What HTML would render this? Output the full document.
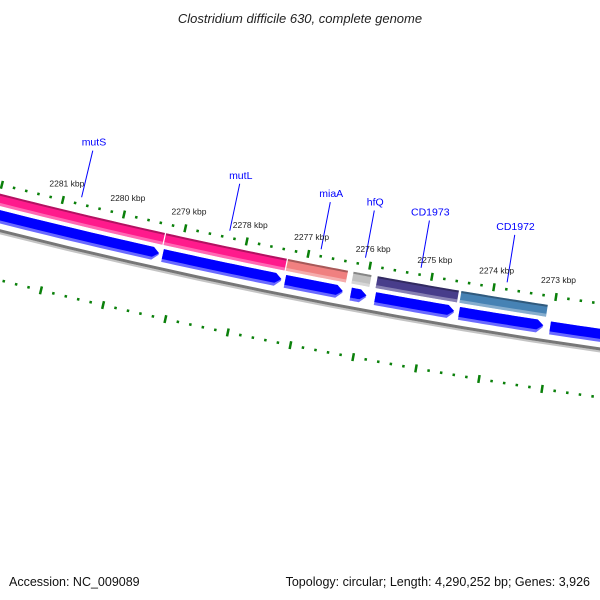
<!DOCTYPE html>
<html><head><meta charset="utf-8"><style>
html,body{margin:0;padding:0;background:#fff;}
svg{display:block;font-family:"Liberation Sans",sans-serif;}
</style></head><body>
<svg id="map" width="600" height="600" viewBox="0 0 600 600" xmlns="http://www.w3.org/2000/svg">
<text x="300" y="23" text-anchor="middle" font-size="13" font-style="italic" fill="#222">Clostridium difficile 630, complete genome</text>
<text x="9" y="586" font-size="12.5" fill="#111">Accession: NC_009089</text>
<text x="590" y="586" text-anchor="end" font-size="12.5" fill="#111">Topology: circular; Length: 4,290,252 bp; Genes: 3,926</text>
<g id="layer"></g>
</svg>
<script>
const geneNames = ["mutS","mutL","miaA","hfQ","CD1973","CD1972","CD1971"];
const geneStart = [2282.14,2279.28,2277.30,2276.24,2275.85,2274.50,2273.04];
const geneEnd   = [2279.30,2277.32,2276.33,2275.95,2274.54,2273.11,2271.00];
const geneColor = ["#ff1a8c","#ff1a8c","#f08080","#c0c0c0","#483d8b","#4682b4",null];
const showLabel = [true,true,true,true,true,true,false];
const tickLabelKbp = [2273,2274,2275,2276,2277,2278,2279,2280,2281];
const tickRangeKbp = [2269,2285];

const CX=1418, CY=-5386, R=5748, A0=98.625, K=0.6264, REF=2273;
const NS="http://www.w3.org/2000/svg";
const layer=document.getElementById('layer');
function pt(bp,r){const a=(A0+(bp-REF)*K)*Math.PI/180;return [CX+r*Math.cos(a),CY+r*Math.sin(a)];}
function mk(tag,attrs){const e=document.createElementNS(NS,tag);for(const k in attrs)e.setAttribute(k,attrs[k]);layer.appendChild(e);return e;}
function arcPts(b1,b2,r){const p=[];for(let i=0;i<=16;i++){p.push(pt(b1+(b2-b1)*i/16,r));}return p;}
function sector(b1,b2,r1,r2,fill,op){
  const p=arcPts(b1,b2,r1).concat(arcPts(b2,b1,r2));
  return mk('polygon',{points:p.map(q=>q[0].toFixed(2)+','+q[1].toFixed(2)).join(' '),fill:fill,'fill-opacity':op});
}
function arrow(b1,b2,r1,r2,fill){
  const tip=0.1, bb=b2+tip, rm=(r1+r2)/2;
  const p=arcPts(b1,bb,r1).concat([pt(b2,rm)]).concat(arcPts(bb,b1,r2));
  return mk('polygon',{points:p.map(q=>q[0].toFixed(2)+','+q[1].toFixed(2)).join(' '),fill:fill});
}
// backbone
(function(){
  const p1=arcPts(2285,2268,R+47.5), p2=arcPts(2285,2268,R+45);
  const a=mk('polyline',{points:p1.map(q=>q.join(',')).join(' '),fill:'none',stroke:'#c4c4c4','stroke-width':2});
  
  const b=mk('polyline',{points:p2.map(q=>q.join(',')).join(' '),fill:'none',stroke:'#777','stroke-width':3});
  
})();
// genes
geneNames.forEach((n,i)=>{
  const s=geneStart[i], e=geneEnd[i];
  if(geneColor[i]){
    const f=sector(s,e,R+9,R+21,geneColor[i],1);
    
    
    sector(s,e,R+9,R+11,'#000',0.3);
    sector(s,e,R+18,R+21,'#fff',0.35);
  }
  const a1=arrow(s-0.02,e+0.02,R+25,R+38,'#6a6aff');
  
  
  const a2=arrow(s-0.02,e+0.02,R+25,R+35,'#0000ff');
  
  
  if(showLabel[i]){
    const m=(s+e)/2, p1=pt(m,R-7), p2=pt(m,R-55), pl=pt(m,R-60);
    const l=mk('line',{x1:p1[0],y1:p1[1],x2:p2[0],y2:p2[1],stroke:'#0000ff','stroke-width':1});
    
    
    const t=mk('text',{x:pl[0],y:pl[1],'text-anchor':'middle','font-size':10.5,fill:'#0000ff'});
    t.textContent=n;
    
    
  }
});
// ticks
for(let k=Math.round(tickRangeKbp[0]*5);k<=tickRangeKbp[1]*5;k++){
  const bp=k/5, major=(k%5===0);
  [0,93].forEach(off=>{
    const h=major?4:1.3;
    const p1=pt(bp,R+off-h), p2=pt(bp,R+off+h);
    const l=mk('line',{x1:p1[0],y1:p1[1],x2:p2[0],y2:p2[1],stroke:'#0a800a','stroke-width':2.5});
    
    
  });
}
tickLabelKbp.forEach(kb=>{
  const p=pt(kb,R-17);
  const t=mk('text',{x:p[0],y:p[1]+3,'text-anchor':'middle','font-size':8.5,fill:'#222'});
  t.textContent=kb+' kbp';
  
  
});
</script>
</body></html>
